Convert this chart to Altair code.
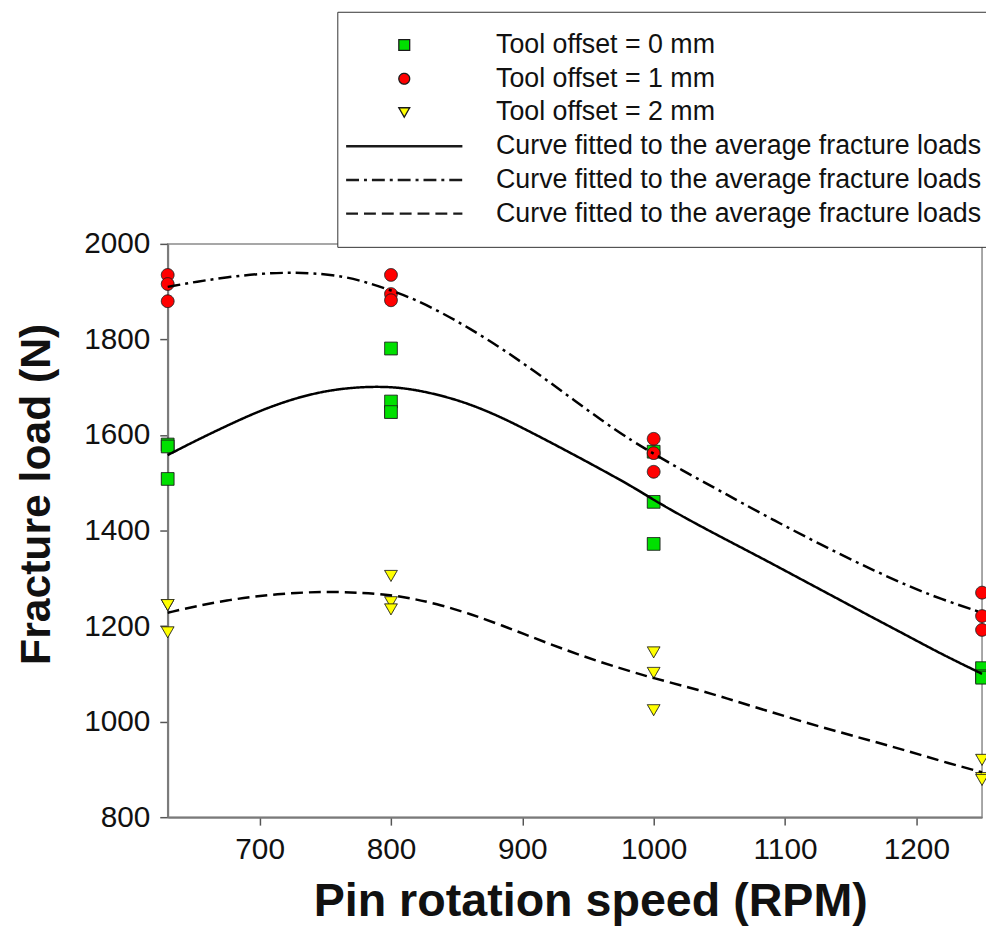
import altair as alt
import pandas as pd

# ---------------- data ----------------
RPM_LEVELS = [630, 800, 1000, 1250]

# measured fracture loads (N) at each pin rotation speed
LOAD_0MM = [[1580, 1576, 1508], [1781, 1670, 1648], [1565, 1460, 1372], [1112, 1095, 1092]]
LOAD_1MM = [[1935, 1916, 1880], [1935, 1895, 1882], [1592, 1562, 1523], [1270, 1221, 1192]]
LOAD_2MM = [[1244, 1244, 1187], [1305, 1250, 1235], [1145, 1102, 1024], [920, 882, 878]]

# fitted curves (sampled along the drawn curves)
CURVE0_RPM = [630, 652, 677, 702, 728, 753, 778, 800, 818, 838, 860, 885, 910, 935,
              960, 985, 1000, 1021, 1046, 1067, 1092, 1117, 1143, 1168, 1193, 1218, 1250]
CURVE0_LOAD = [1558, 1589, 1622, 1653, 1678, 1694, 1701, 1701, 1695, 1683, 1665, 1636, 1601, 1565,
               1528, 1490, 1464, 1431, 1394, 1364, 1328, 1291, 1253, 1216, 1180, 1143, 1100]

CURVE1_RPM = [630, 652, 677, 702, 722, 740, 765, 783, 800, 818, 838, 860, 885, 910,
              935, 960, 985, 1000, 1021, 1046, 1067, 1092, 1117, 1143, 1168, 1193, 1218, 1250]
CURVE1_LOAD = [1910, 1921, 1931, 1938, 1940, 1939, 1932, 1918, 1903, 1884, 1857, 1823, 1780, 1732,
               1682, 1631, 1585, 1561, 1527, 1490, 1458, 1421, 1385, 1349, 1316, 1285, 1257, 1228]

CURVE2_RPM = [630, 652, 677, 702, 728, 753, 778, 800, 818, 838, 860, 885, 910, 935,
              960, 985, 1000, 1021, 1046, 1067, 1092, 1117, 1143, 1168, 1193, 1218, 1250]
CURVE2_LOAD = [1228, 1242, 1255, 1264, 1270, 1272, 1270, 1265, 1257, 1244, 1226, 1201, 1174, 1148,
               1124, 1103, 1091, 1076, 1057, 1039, 1018, 997, 977, 958, 939, 918, 894]

ENTRIES = ["Tool offset = 0 mm", "Tool offset = 1 mm", "Tool offset = 2 mm",
           "curve_0mm", "curve_1mm", "curve_2mm"]
CURVE_LABEL = "Curve fitted to the average fracture loads"

X_TICKS = [700, 800, 900, 1000, 1100, 1200]
Y_TICKS = [800, 1000, 1200, 1400, 1600, 1800, 2000]

# ---------------- styles ----------------
FILLS = ["#00e000", "#ff0000", "#ffff00", "transparent", "transparent", "transparent"]
# legend line sample: two close parallel strokes -> a thicker line
LINE_PATH = "M-10.7,-0.11H10.7M-10.7,0.11H10.7"
SHAPES = ["square", "circle", "triangle-down", LINE_PATH, LINE_PATH, LINE_PATH]
DASH_SOLID = [1, 0]
DASH_DOTDASH = [13, 5, 3, 5]
DASH_DASHED = [12, 6]
DASHES = [DASH_SOLID, DASH_SOLID, DASH_SOLID, DASH_SOLID, DASH_DOTDASH, DASH_DASHED]

# ---------------- tables ----------------
rows = []
for name, loads in zip(ENTRIES[:3], [LOAD_0MM, LOAD_1MM, LOAD_2MM]):
    for rpm, vals in zip(RPM_LEVELS, loads):
        for v in vals:
            rows.append({"rpm": rpm, "load": v, "entry": name})
points_df = pd.DataFrame(rows)

curves_df = pd.concat([
    pd.DataFrame({"rpm": CURVE0_RPM, "load": CURVE0_LOAD, "curve": "c0"}),
    pd.DataFrame({"rpm": CURVE1_RPM, "load": CURVE1_LOAD, "curve": "c1"}),
    pd.DataFrame({"rpm": CURVE2_RPM, "load": CURVE2_LOAD, "curve": "c2"}),
], ignore_index=True)

x_enc = alt.X("rpm:Q",
              scale=alt.Scale(domain=[630, 1250], nice=False, zero=False),
              axis=alt.Axis(title="Pin rotation speed (RPM)", values=X_TICKS, format="d",
                            titleX=426, titleY=62))
y_enc = alt.Y("load:Q",
              scale=alt.Scale(domain=[800, 2000], nice=False, zero=False),
              axis=alt.Axis(title="Fracture load (N)", values=Y_TICKS, format="d",
                            titleX=-110, titleY=252))

label_expr = f"indexof(datum.label, 'curve') === 0 ? '{CURVE_LABEL}' : datum.label"


def leg():
    return alt.Legend(title=None, labelExpr=label_expr, orient="none",
                      legendX=171, legendY=-234)


points = alt.Chart(points_df).mark_point(
    filled=True, opacity=1, size=165, stroke="#1a1a1a", strokeWidth=1
).encode(
    x=x_enc,
    y=y_enc,
    fill=alt.Fill("entry:N", scale=alt.Scale(domain=ENTRIES, range=FILLS), legend=leg()),
    shape=alt.Shape("entry:N", scale=alt.Scale(domain=ENTRIES, range=SHAPES), legend=leg()),
    strokeDash=alt.StrokeDash("entry:N", scale=alt.Scale(domain=ENTRIES, range=DASHES), legend=leg()),
)


def curve_layer(cid, dash):
    return alt.Chart(curves_df).transform_filter(
        alt.datum.curve == cid
    ).mark_line(color="black", strokeWidth=2.5, strokeDash=dash, interpolate="basis").encode(
        x=x_enc, y=y_enc, order="rpm:Q"
    )


chart = alt.layer(
    points,
    curve_layer("c0", DASH_SOLID),
    curve_layer("c1", DASH_DOTDASH),
    curve_layer("c2", DASH_DASHED),
).properties(
    width=821,
    height=578,
    autosize=alt.AutoSizeParams(type="none"),
    padding={"left": 161, "top": 234, "right": 4, "bottom": 120},
    background="white",
).configure_view(
    stroke="#8a8a8a", strokeWidth=1.5
).configure_axis(
    grid=False,
    labelFont="Liberation Sans",
    labelFontSize=30,
    labelColor="#111111",
    titleFont="Liberation Sans",
    titleFontWeight="bold",
    titleColor="#111111",
    domainColor="#7a7a7a",
    domainWidth=2,
    tickColor="#555555",
    tickWidth=1.5,
    tickSize=8,
    labelPadding=10,
).configure_axisX(
    titleFontSize=47
).configure_axisY(
    titleFontSize=43
).configure_legend(
    padding=20,
    strokeColor="#333333",
    fillColor="white",
    labelFont="Liberation Sans",
    labelFontSize=27,
    labelColor="#111111",
    labelLimit=0,
    rowPadding=6.0,
    symbolOffset=34,
    labelOffset=79,
    symbolSize=120,
    symbolStrokeWidth=1.3,
    cornerRadius=0,
)

chart.save("out.html", embed_options={"renderer": "svg", "actions": False})
